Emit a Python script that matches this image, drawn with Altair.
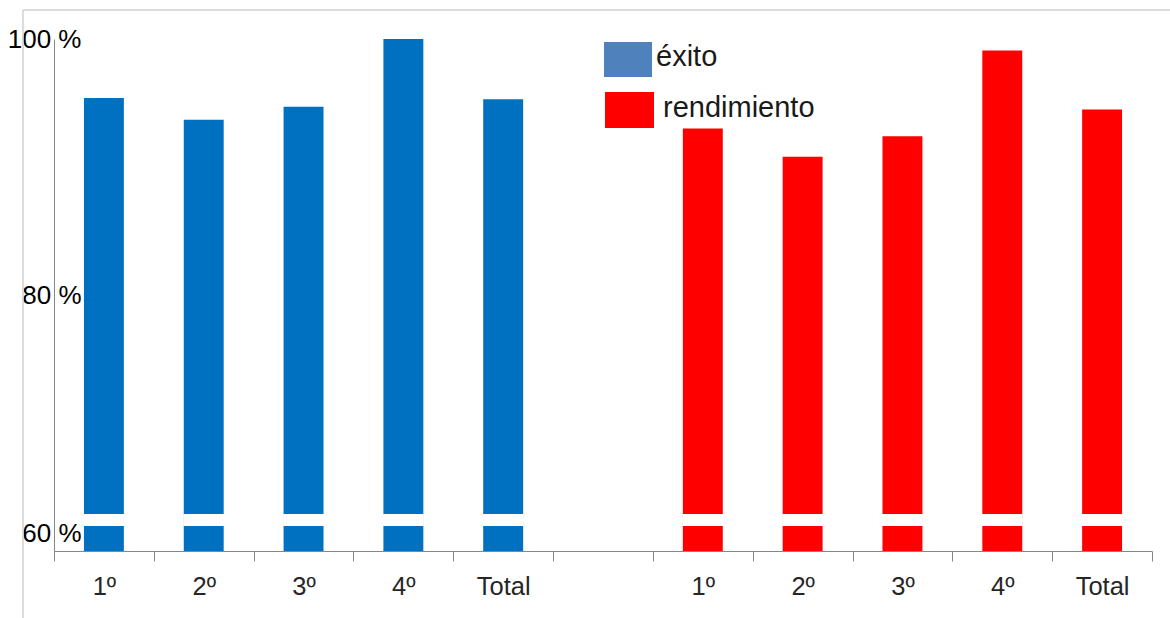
import json
import altair as alt
import pandas as pd

# Category slots along the x axis (one empty slot separates the two groups)
slot_keys = ["e1", "e2", "e3", "e4", "eT", "gap", "r1", "r2", "r3", "r4", "rT"]
slot_labels = ["1º", "2º", "3º", "4º", "Total", "", "1º", "2º", "3º", "4º", "Total"]

# Percentages per course
exito = [95.4, 93.7, 94.7, 100.0, 95.3]
rendimiento = [93.0, 90.8, 92.4, 99.1, 94.5]

series_names = ["éxito", "rendimiento"]
bar_colors = ["#0070C0", "#FF0000"]
legend_colors = ["#4F81BD", "#FF0000"]

# Axis cut drawn across every bar (broken-axis mark)
break_lo = 61.95
break_hi = 62.9

y_ticks = [60, 80, 100]

rows = []
for k, v in zip(slot_keys[:5], exito):
    rows.append({"slot": k, "valor": v, "serie": series_names[0]})
for k, v in zip(slot_keys[6:], rendimiento):
    rows.append({"slot": k, "valor": v, "serie": series_names[1]})
df = pd.DataFrame(rows)

label_expr = "{}[indexof({}, datum.value)]".format(
    json.dumps(slot_labels, ensure_ascii=False), json.dumps(slot_keys)
)

FONT = "Liberation Sans"
BAR_BAND = 0.4

x_scale = alt.Scale(domain=slot_keys, paddingInner=0, paddingOuter=0)
x_enc = alt.X(
    "slot:N",
    scale=x_scale,
    axis=alt.Axis(
        title=None,
        labelExpr=label_expr,
        labelAngle=0,
        labelFont=FONT,
        labelFontSize=25.5,
        labelColor="#262626",
        labelPadding=13,
        tickBand="extent",
        tickSize=10,
        tickColor="#868686",
        domainColor="#868686",
        grid=False,
    ),
)
y_scale = alt.Scale(domain=[60, 100], nice=False, zero=False)

bars = alt.Chart(df).mark_bar(width={"band": BAR_BAND}).encode(
    x=x_enc,
    y=alt.Y(
        "valor:Q",
        scale=y_scale,
        axis=alt.Axis(
            title=None,
            values=y_ticks,
            grid=False,
            ticks=False,
            tickSize=0,
            labelExpr="datum.value + ' %'",
            labelFont=FONT,
            labelFontSize=26,
            labelColor="#000000",
            labelAlign="right",
            labelPadding=-27,
            labelOffset={"expr": "datum.value == 60 ? -18 : 0"},
            domainColor="#868686",
        ),
    ),
    y2=alt.datum(60),
    color=alt.Color(
        "serie:N",
        scale=alt.Scale(domain=series_names, range=bar_colors),
        legend=None,
    ),
)

cuts = alt.Chart(df).mark_bar(color="white", width={"band": BAR_BAND + 0.01}).encode(
    x=alt.X("slot:N", scale=x_scale),
    y=alt.datum(break_lo, scale=y_scale),
    y2=alt.datum(break_hi),
)

# Legend swatches and labels
sw_blue = alt.Chart(alt.Data(values=[{}])).mark_rect(color=legend_colors[0]).encode(
    x=alt.value(550), x2=alt.value(598), y=alt.value(3), y2=alt.value(38)
)
sw_red = alt.Chart(alt.Data(values=[{}])).mark_rect(color=legend_colors[1]).encode(
    x=alt.value(551), x2=alt.value(600), y=alt.value(53), y2=alt.value(89)
)
lt_blue = alt.Chart(alt.Data(values=[{}])).mark_text(
    text=series_names[0], font=FONT, fontSize=29, align="left", baseline="middle", color="#1a1a1a"
).encode(x=alt.value(602), y=alt.value(18))
lt_red = alt.Chart(alt.Data(values=[{}])).mark_text(
    text=series_names[1], font=FONT, fontSize=29, align="left", baseline="middle", color="#1a1a1a"
).encode(x=alt.value(609), y=alt.value(69))

# Outer chart-area frame (top and left edges)
frame_left = alt.Chart(alt.Data(values=[{}])).mark_rule(color="#D0D0D0", strokeWidth=1.5).encode(
    x=alt.value(-31), y=alt.value(-29), y2=alt.value(579)
)
frame_top = alt.Chart(alt.Data(values=[{}])).mark_rule(color="#D0D0D0", strokeWidth=1.5).encode(
    x=alt.value(-31), x2=alt.value(1116), y=alt.value(-29)
)

chart = (
    alt.layer(frame_left, frame_top, bars, cuts, sw_blue, sw_red, lt_blue, lt_red)
    .properties(
        width=1098,
        height=512,
        autosize=alt.AutoSizeParams(type="none"),
        padding={"left": 54, "top": 39, "right": 18, "bottom": 67},
        background="white",
    )
    .configure_view(stroke=None)
)

chart.save("out.html", embed_options={"renderer": "svg", "actions": False})
